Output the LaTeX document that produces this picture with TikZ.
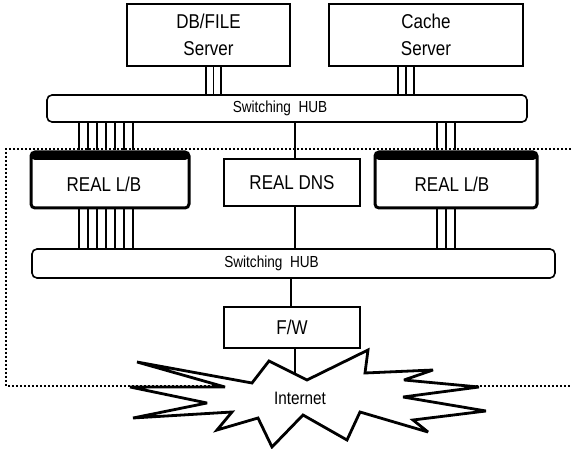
\documentclass[tikz,border=0pt]{standalone}
\usepackage{fontspec}
\setmainfont{Liberation Sans}[FakeStretch=0.85]
\begin{document}
\begin{tikzpicture}[x=1pt, y=-1pt,
  box/.style={draw, line width=1.6pt, inner sep=0pt, align=center,
    font=\fontsize{20}{26.5}\selectfont},
  hub/.style={draw, line width=1.6pt, rounded corners=5pt, inner sep=0pt},
  hubtext/.style={font=\fontsize{16}{18}\selectfont},
  lbbox/.style={draw, line width=3pt, rounded corners=4pt, inner sep=0pt,
    path picture={\fill (path picture bounding box.north west)
      rectangle ([yshift=-8pt]path picture bounding box.north east);}},
  lbtext/.style={font=\fontsize{20}{24}\selectfont},
  wire/.style={line width=1.4pt},
  dotbox/.style={line width=1.7pt, dash pattern=on 1.7pt off 2.3pt},
  cloud/.style={line width=2.8pt, fill=white, line join=miter, miter limit=4}]
  \useasboundingbox (0,0) rectangle (571,449);
  % servers on top
  \node[box, minimum width=163pt, minimum height=62pt] (db) at (208.5,35) {DB/FILE\\Server};
  \node[box, minimum width=194pt, minimum height=62pt] (cache) at (426,35) {Cache\\Server};
  \node[hub, minimum width=480pt, minimum height=27pt,
    label={[hubtext, xshift=-7pt]center:Switching\ \ HUB}] (hubtop) at (287,108.5) {};
  % inner site
  \node[lbbox, minimum width=158pt, minimum height=56pt,
    label={[lbtext, xshift=-6pt, yshift=-4pt]center:REAL L/B}] (lbl) at (110,180) {};
  \node[box, minimum width=136pt, minimum height=47pt] (dns) at (292,182.5) {REAL DNS};
  \node[lbbox, minimum width=162pt, minimum height=56pt,
    label={[lbtext, xshift=-4pt, yshift=-4pt]center:REAL L/B}] (lbr) at (456,180) {};
  \node[hub, minimum width=523pt, minimum height=29pt,
    label={[hubtext, xshift=-22pt]center:Switching\ \ HUB}] (hubbot) at (293.5,263.5) {};
  \node[box, minimum width=136pt, minimum height=41pt] (fw) at (292,327.5) {F/W};
  % bundles of wires
  \foreach \x in {206,213.5,221}
    \draw[wire] ({\x},0 |- db.south) -- ({\x},0 |- hubtop.north);
  \foreach \x in {398,406,414}
    \draw[wire] ({\x},0 |- cache.south) -- ({\x},0 |- hubtop.north);
  \foreach \x in {79,88,97,106,115,124,133} {
    \draw[wire] ({\x},0 |- hubtop.south) -- ({\x},0 |- lbl.north);
    \draw[wire] ({\x},0 |- lbl.south) -- ({\x},0 |- hubbot.north);
  }
  \foreach \x in {437,446,455} {
    \draw[wire] ({\x},0 |- hubtop.south) -- ({\x},0 |- lbr.north);
    \draw[wire] ({\x},0 |- lbr.south) -- ({\x},0 |- hubbot.north);
  }
  \draw[wire] ({295},0 |- hubtop.south) -- ({295},0 |- dns.north);
  \draw[wire] ({295},0 |- dns.south) -- ({295},0 |- hubbot.north);
  \draw[wire] ({291},0 |- hubbot.south) -- ({291},0 |- fw.north);
  % dotted border of the site
  \draw[dotbox] (571,149) -| (6,386) -- (571,386);
  % internet burst
  \draw[cloud] (137,362) -- (252,383) -- (269,361) -- (307,380) -- (368,350)
    -- (365,373) -- (433,370) -- (404,380) -- (479,387) -- (403,397)
    -- (486,411) -- (413,420) -- (428,432) -- (360,412) -- (347,440)
    -- (303,415) -- (272,447) -- (258,418) -- (217,430) -- (232,412)
    -- (133,418) -- (207,403) -- (130,387) -- (225,387) -- cycle;
  \coordinate (nettop) at (295,374);
  \node[font=\fontsize{18}{20}\selectfont] (net) at (300,398) {Internet};
  \draw[wire] ({295},0 |- fw.south) -- (nettop);
\end{tikzpicture}
\end{document}
